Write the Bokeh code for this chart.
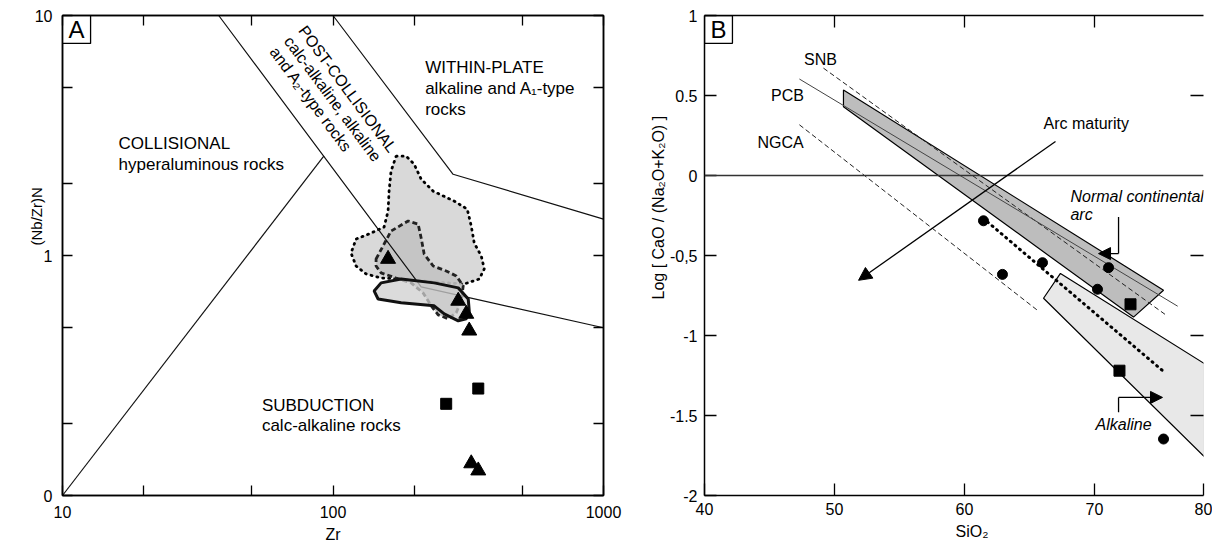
import numpy as np
from bokeh.plotting import figure
from bokeh.models import Range1d, LogAxis, LinearAxis, FixedTicker, Arrow, NormalHead, Span, Title
from bokeh.layouts import row
from bokeh.core.properties import value
from bokeh.embed import file_html
from bokeh.resources import INLINE

FONT = "Liberation Sans"

# ---------------- Panel A : (Nb/Zr)N vs Zr ----------------
a_tri_zr = [159.8, 290.4, 310.9, 318.9, 324.4, 344.4]
a_tri_nbzr = [0.967, 0.647, 0.571, 0.486, 0.136, 0.127]
a_sq_zr = [262.1, 344.4]
a_sq_nbzr = [0.241, 0.279]

# field boundaries
a_coll_zr = [10, 92.6]
a_coll_nbzr = [0.1, 2.6]
a_band_low_zr = [37.8, 211.8, 1000]
a_band_low_nbzr = [10, 0.74, 0.5]
a_band_up_zr = [100, 278, 1000]
a_band_up_nbzr = [10, 2.18, 1.418]

# sample fields
a_dot_zr = [171.1, 186.4, 199.5, 211.8, 234.6, 280.6, 313.5, 324.4, 332.8, 353.3, 362.5, 347.3,
            305.6, 262.1, 211.8, 178.6, 150.6, 132.5, 121.7, 116.6, 121.7, 138.2, 154.5, 159.8,
            161.2, 163.9]
a_dot_nbzr = [2.593, 2.593, 2.402, 2.080, 1.854, 1.685, 1.561, 1.326, 1.127, 0.995, 0.879, 0.798,
              0.761, 0.769, 0.783, 0.798, 0.806, 0.838, 0.904, 1.024, 1.171, 1.240, 1.314, 1.531,
              1.854, 2.246]
a_dash_zr = [144.3, 163.9, 189.6, 206.4, 211.8, 217.3, 234.6, 262.1, 285.5, 303.0, 298.0, 285.5,
             266.7, 244.8, 230.7, 215.4, 194.5, 171.1, 150.6, 144.3]
a_dash_nbzr = [0.967, 1.264, 1.392, 1.352, 1.183, 1.014, 0.904, 0.862, 0.822, 0.747, 0.647, 0.577,
               0.545, 0.566, 0.617, 0.698, 0.769, 0.806, 0.846, 0.904]
a_solid_zr = [141.9, 150.6, 178.6, 236.6, 290.4, 316.2, 318.9, 310.9, 290.4, 257.7, 236.6, 178.6, 146.8]
a_solid_nbzr = [0.712, 0.769, 0.798, 0.769, 0.733, 0.659, 0.588, 0.545, 0.534, 0.571, 0.617, 0.635, 0.659]

a_x_ticks = [10, 20, 50, 100, 200, 500, 1000]
a_x_labels = {10: "10", 20: "", 50: "", 100: "100", 200: "", 500: "", 1000: "1000"}
a_y_ticks = [0.1, 0.2, 0.5, 1, 2, 5, 10]
a_y_labels = {0.1: "0", 0.2: "", 0.5: "", 1: "1", 2: "", 5: "", 10: "10"}

# ---------------- Panel B : Log[CaO/(Na2O+K2O)] vs SiO2 ----------------
b_circ_sio2 = [61.46, 62.92, 66.0, 71.08, 70.23, 75.31]
b_circ_log = [-0.283, -0.618, -0.545, -0.576, -0.711, -1.647]
b_sq_sio2 = [72.77, 71.92]
b_sq_log = [-0.805, -1.22]
b_snb_sio2 = [49.15, 75.6]
b_snb_log = [0.671, -0.878]
b_pcb_sio2 = [47.3, 76.4]
b_pcb_log = [0.603, -0.817]
b_ngca_sio2 = [47.3, 65.7]
b_ngca_log = [0.317, -0.848]
b_trend_sio2 = [61.77, 75.23]
b_trend_log = [-0.29, -1.219]
b_ncarc_sio2 = [50.69, 75.31, 73.0, 50.69]
b_ncarc_log = [0.535, -0.717, -0.885, 0.430]
b_alk_sio2 = [66.08, 67.38, 78.46, 78.46]
b_alk_log = [-0.767, -0.612, -1.176, -1.759]
b_arc_sio2 = [67.0, 51.85]
b_arc_log = [0.213, -0.655]
b_nca_ptr_sio2 = [71.85, 71.85, 70.31]
b_nca_ptr_log = [-0.259, -0.488, -0.488]
b_alk_ptr_sio2 = [71.85, 71.85, 75.23]
b_alk_ptr_log = [-1.480, -1.387, -1.387]

B_X_END = 40 + 499 / 13.0   # right edge of the (cropped) panel, where "80" is printed
b_x_ticks = [40, 50, 60, 70, B_X_END]
b_x_labels = {40: "40", 50: "50", 60: "60", 70: "70", B_X_END: "80"}
b_y_ticks = [-2, -1.5, -1, -0.5, 0, 0.5, 1]
b_y_labels = {-2: "-2", -1.5: "-1.5", -1: "-1", -0.5: "-0,5", 0: "0", 0.5: "0.5", 1: "1"}


def style_axis(ax, ticks, labels, tick_len, standoff, show=True):
    ax.ticker = FixedTicker(ticks=ticks, minor_ticks=[])
    ax.major_label_overrides = labels
    ax.major_tick_in = tick_len
    ax.major_tick_out = 0
    ax.minor_tick_line_color = None
    ax.axis_line_color = "black"
    ax.axis_line_width = 1.5
    ax.major_tick_line_color = "black"
    ax.major_tick_line_width = 1.3
    ax.major_label_text_font = FONT
    ax.major_label_text_color = "black"
    ax.major_label_standoff = standoff
    ax.major_label_text_font_size = "16px" if show else "0px"
    if not show:
        ax.major_label_standoff = 0


def txt(p, x, y, s, size="17px", align="left", baseline="top", angle=0, style="normal", lh=1.08):
    p.text(x=[x], y=[y], text=[s], text_font=value(FONT), text_font_size=size,
           text_align=align, text_baseline=baseline, angle=angle, angle_units="deg",
           text_font_style=style, text_line_height=lh, text_color="black")


def title(p, s, place, align, offset, standoff, size="16px"):
    p.add_layout(Title(text=s, align=align, offset=offset, standoff=standoff,
                       text_font=FONT, text_font_size=size, text_font_style="normal",
                       text_color="black"), place)


# ======================= Figure A =======================
pA = figure(width=640, height=547, x_axis_type="log", y_axis_type="log",
            x_range=Range1d(10, 1000), y_range=Range1d(0.1, 10),
            output_backend="svg", toolbar_location=None,
            min_border_left=62, min_border_right=37, min_border_top=14, min_border_bottom=52)
pA.grid.visible = False
pA.outline_line_color = "black"
pA.outline_line_width = 1.5
pA.background_fill_color = "white"
pA.border_fill_color = "white"
style_axis(pA.xaxis[0], a_x_ticks, a_x_labels, 10, 10)
style_axis(pA.yaxis[0], a_y_ticks, a_y_labels, 10, 10)
topA = LogAxis()
style_axis(topA, a_x_ticks, {t: "" for t in a_x_ticks}, 10, 0, show=False)
pA.add_layout(topA, "above")
rightA = LogAxis()
style_axis(rightA, a_y_ticks, {t: "" for t in a_y_ticks}, 10, 0, show=False)
pA.add_layout(rightA, "right")

# sample fields
pA.patch(a_dot_zr, a_dot_nbzr, fill_color="#d9d9d9", line_color="black", line_width=2.8,
         line_dash="1 5", line_cap="round")
pA.patch(a_dash_zr, a_dash_nbzr, fill_color="#c2c2c2", fill_alpha=0.9, line_color="#222222",
         line_width=2.8, line_dash="5 3")
# boundaries
for xs, ys in [(a_coll_zr, a_coll_nbzr), (a_band_low_zr, a_band_low_nbzr), (a_band_up_zr, a_band_up_nbzr)]:
    pA.line(xs, ys, line_color="#111111", line_width=1.2)
pA.patch(a_solid_zr, a_solid_nbzr, fill_color="#cfcfcf", fill_alpha=0.75, line_color="#111111",
         line_width=3)

pA.scatter(a_tri_zr, a_tri_nbzr, marker="triangle", size=15, fill_color="black", line_color="black")
pA.scatter(a_sq_zr, a_sq_nbzr, marker="square", size=11, fill_color="black", line_color="black")

txt(pA, 16.12, 3.20, "COLLISIONAL\nhyperaluminous rocks")
txt(pA, 219.1, 6.62, "WITHIN-PLATE\nalkaline and A\u2081-type\nrocks")
txt(pA, 54.6, 0.2604, "SUBDUCTION\ncalc-alkaline rocks")
txt(pA, 81.5, 9.35, "POST-COLLISIONAL\ncalc-alkaline, alkaline\nand A\u2082-type rocks", angle=-53.5,
    size="16px", lh=1.05)

# panel letter box
pA.quad(left=[10], right=[12.7], bottom=[7.65], top=[10], fill_color="white", line_color="black",
        line_width=1.3)
txt(pA, 11.27, 8.75, "A", size="24px", align="center", baseline="middle")

title(pA, "(Nb/Zr)N", "left", "left", 250, -26, size="15px")
title(pA, "Zr", "below", "center", 0, 6)

# ======================= Figure B =======================
pB = figure(width=572, height=547, x_range=Range1d(40, B_X_END), y_range=Range1d(-2, 1),
            output_backend="svg", toolbar_location=None,
            min_border_left=64, min_border_right=9, min_border_top=15, min_border_bottom=48)
pB.grid.visible = False
pB.outline_line_color = None
pB.background_fill_color = "white"
pB.border_fill_color = "white"
style_axis(pB.xaxis[0], b_x_ticks, b_x_labels, 12, 7)
style_axis(pB.yaxis[0], b_y_ticks, b_y_labels, 12, 7)
topB = LinearAxis()
style_axis(topB, [50, 60, 70], {50: "", 60: "", 70: ""}, 12, 0, show=False)
pB.add_layout(topB, "above")
rightB = LinearAxis()
style_axis(rightB, [-1.5, -1, -0.5, 0.5], {-1.5: "", -1: "", -0.5: "", 0.5: ""}, 13, 0, show=False)
rightB.axis_line_color = None
pB.add_layout(rightB, "right")

pB.add_layout(Span(location=0, dimension="width", line_color="#333333", line_width=1.5))

pB.patch(b_alk_sio2, b_alk_log, fill_color="#e8e8e8", line_color="black", line_width=1.2)
pB.patch(b_ncarc_sio2, b_ncarc_log, fill_color="#bdbdbd", line_color="black", line_width=1.2)
pB.line(b_snb_sio2, b_snb_log, line_color="#222222", line_width=1, line_dash="5 3")
pB.line(b_pcb_sio2, b_pcb_log, line_color="#444444", line_width=1)
pB.line(b_ngca_sio2, b_ngca_log, line_color="#222222", line_width=1, line_dash="5 3")
pB.line(b_trend_sio2, b_trend_log, line_color="black", line_width=3, line_dash="1 5", line_cap="round")

pB.add_layout(Arrow(end=NormalHead(size=13, fill_color="black", line_color="black"),
                    x_start=b_arc_sio2[0], y_start=b_arc_log[0], x_end=b_arc_sio2[1], y_end=b_arc_log[1],
                    line_color="black", line_width=1.3))
pB.line(b_nca_ptr_sio2[:2], b_nca_ptr_log[:2], line_color="black", line_width=1.3)
pB.add_layout(Arrow(end=NormalHead(size=12, fill_color="black", line_color="black"),
                    x_start=b_nca_ptr_sio2[1], y_start=b_nca_ptr_log[1], x_end=b_nca_ptr_sio2[2],
                    y_end=b_nca_ptr_log[2], line_color="black", line_width=1.3))
pB.line(b_alk_ptr_sio2[:2], b_alk_ptr_log[:2], line_color="black", line_width=1.3)
pB.add_layout(Arrow(end=NormalHead(size=12, fill_color="black", line_color="black"),
                    x_start=b_alk_ptr_sio2[1], y_start=b_alk_ptr_log[1], x_end=b_alk_ptr_sio2[2],
                    y_end=b_alk_ptr_log[2], line_color="black", line_width=1.3))

pB.scatter(b_circ_sio2, b_circ_log, marker="circle", size=10, fill_color="black", line_color="black")
pB.scatter(b_sq_sio2, b_sq_log, marker="square", size=11, fill_color="black", line_color="black")

txt(pB, 48.92, 0.727, "SNB", size="16px", align="center", baseline="middle")
txt(pB, 46.38, 0.497, "PCB", size="16px", align="center", baseline="middle")
txt(pB, 45.85, 0.206, "NGCA", size="16px", align="center", baseline="middle")
txt(pB, 66.08, 0.380, "Arc maturity", size="16px")
txt(pB, 68.15, -0.079, "Normal continental\narc", size="16px", style="italic", lh=1.05)
txt(pB, 70.08, -1.505, "Alkaline", size="16px", style="italic")

pB.quad(left=[40], right=[42.15], bottom=[0.826], top=[1], fill_color="white", line_color="black",
        line_width=1.3)
txt(pB, 41.08, 0.913, "B", size="24px", align="center", baseline="middle")

title(pB, "Log [ CaO / (Na\u2082O+K\u2082O) ]", "left", "left", 196, 0)
title(pB, "SiO\u2082", "below", "left", 251, 6)

layout = row(pA, pB)
open("out.html", "w").write(file_html(layout, INLINE))
